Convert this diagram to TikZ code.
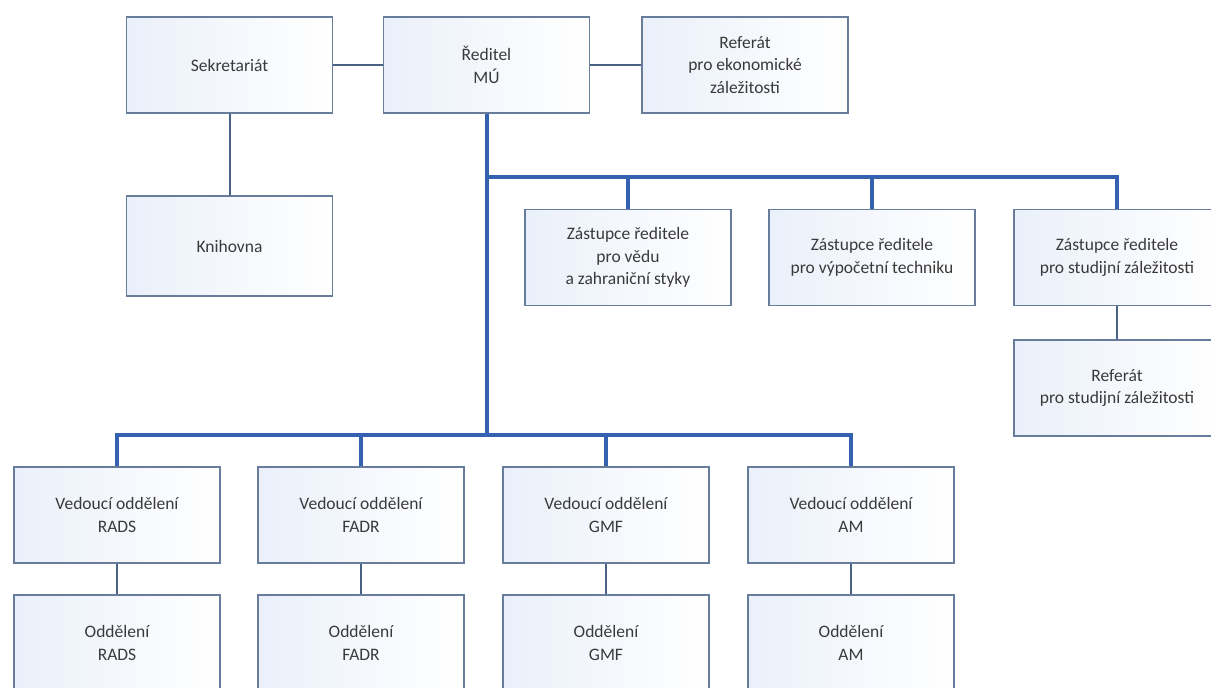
\documentclass[tikz,border=0pt]{standalone}
\usepackage{fontspec}
\setmainfont{Carlito}
\usepackage{tikz}
\usetikzlibrary{calc}

\definecolor{busblue}{RGB}{52,98,176}
\definecolor{linkgray}{RGB}{72,98,134}
\definecolor{boxedge}{RGB}{104,124,156}
\definecolor{boxtint}{RGB}{234,240,250}
\definecolor{txtgray}{RGB}{58,58,58}

\tikzset{
  unit/.style={draw=boxedge,line width=1.4pt,left color=boxtint,right color=white,
    minimum width=206pt,minimum height=96pt,align=center,text=txtgray,
    font=\fontsize{17.5}{22.5}\selectfont,inner sep=0pt},
  bus/.style={busblue,line width=3.4pt},
  link/.style={linkgray,line width=2pt}
}

\begin{document}
\begin{tikzpicture}[x=1pt,y=-1pt]
          \useasboundingbox (0,0) rectangle (1211,688);
          %\draw[very thin,lightgray] (0,0) grid[step=50] (1211,688);
          \node[unit] (sekr) at (229.5,65) {Sekretariát};
          \node[unit] (reditel) at (486.5,65) {Ředitel\\MÚ};
          \node[unit] (refek) at (745,65) {Referát\\pro ekonomické\\záležitosti};
          \node[unit,minimum height=100pt] (knih) at (229.5,246) {Knihovna};
          \node[unit] (zveda) at (628,257.5) {Zástupce ředitele\\pro vědu\\a zahraniční styky};
          \node[unit] (zvyp) at (872,257.5) {Zástupce ředitele\\pro výpočetní techniku};
          \node[unit] (zstud) at (1117,257.5) {Zástupce ředitele\\pro studijní záležitosti};
          \node[unit] (refstud) at (1117,388) {Referát\\pro studijní záležitosti};
          \node[unit] (vrads) at (117,515) {Vedoucí oddělení\\RADS};
          \node[unit] (vfadr) at (361,515) {Vedoucí oddělení\\FADR};
          \node[unit] (vgmf) at (606,515) {Vedoucí oddělení\\GMF};
          \node[unit] (vam) at (851,515) {Vedoucí oddělení\\AM};
          \node[unit] (orads) at (117,643) {Oddělení\\RADS};
          \node[unit] (ofadr) at (361,643) {Oddělení\\FADR};
          \node[unit] (ogmf) at (606,643) {Oddělení\\GMF};
          \node[unit] (oam) at (851,643) {Oddělení\\AM};
          \coordinate (topbus) at (487,177);
          \coordinate (lowbus) at (487,435);
          % thin links
          \draw[link] (sekr) -- (reditel);
          \draw[link] (reditel) -- (refek);
          \draw[link] (sekr) -- (knih);
          \draw[link] (zstud) -- (refstud);
          \draw[link] (vrads) -- (orads);
          \draw[link] (vfadr) -- (ofadr);
          \draw[link] (vgmf) -- (ogmf);
          \draw[link] (vam) -- (oam);
          % thick bus lines
          \draw[bus] (reditel.south -| topbus) -- (lowbus);
          \draw[bus] (topbus) -| (zstud.north);
          \draw[bus] (zveda.north) -- (zveda.north |- topbus);
          \draw[bus] (zvyp.north) -- (zvyp.north |- topbus);
          \draw[bus] (vrads.north) |- (lowbus);
          \draw[bus] (lowbus) -| (vam.north);
          \draw[bus] (vfadr.north) -- (vfadr.north |- lowbus);
          \draw[bus] (vgmf.north) -- (vgmf.north |- lowbus);
        \end{tikzpicture}
\end{document}
